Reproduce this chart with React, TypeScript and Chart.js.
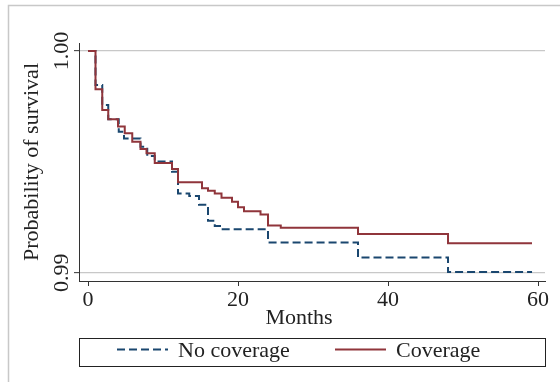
import React, { useEffect, useRef } from "react";
import { Chart, registerables } from "chart.js";

Chart.register(...registerables);

// Kaplan–Meier survival estimates by insurance coverage
const noCoverageMonths = [0, 1, 1.9, 2.7, 4.1, 4.8, 7.0, 7.9, 8.9, 11.2, 12, 13.5, 14.8, 16, 16.9, 17.8, 24, 36, 48, 59.2];
const noCoverageSurvival = [1.0, 0.99847, 0.99756, 0.99692, 0.99636, 0.99606, 0.99568, 0.99526, 0.99502, 0.99456, 0.99358, 0.99346, 0.99307, 0.99235, 0.99211, 0.99196, 0.99137, 0.99069, 0.99004, 0.99004];

const coverageMonths = [0, 1, 1.9, 2.7, 4.0, 4.9, 5.9, 7.0, 7.8, 8.9, 11.2, 12, 15.2, 16, 16.9, 17.8, 19.2, 20, 20.8, 23, 24, 25.7, 36, 48, 59.2];
const coverageSurvival = [1.0, 0.99827, 0.99734, 0.99692, 0.99659, 0.99629, 0.99591, 0.99558, 0.99539, 0.99495, 0.99468, 0.99408, 0.99381, 0.9937, 0.99358, 0.99338, 0.9932, 0.99295, 0.99277, 0.99263, 0.99213, 0.99203, 0.99175, 0.99133, 0.99133];

const xTickValues = [0, 20, 40, 60];
const yTickValues = [0.99, 1.0];

const seriesLabels = ["No coverage", "Coverage"];
const xTitle = "Months";
const yTitle = "Probability of survival";

const FONT = "'Liberation Serif', 'Times New Roman', serif";
const BLUE = "#1a476f";
const RED = "#90353b";

const toPoints = (xs: number[], ys: number[]) => xs.map((x, i) => ({ x, y: ys[i] }));

const framePlugin = {
  id: "frameAndLegend",
  afterDraw(chart: any) {
    const { ctx } = chart;
    ctx.save();
    // outer graph frame
    ctx.strokeStyle = "#c8c8c8";
    ctx.lineWidth = 1.5;
    ctx.strokeRect(8.5, 5.5, 620, 420);

    // x-axis title
    ctx.fillStyle = "#222";
    ctx.font = `22px ${FONT}`;
    ctx.textAlign = "center";
    ctx.textBaseline = "alphabetic";
    ctx.fillText(xTitle, 299, 324);

    // legend box
    ctx.strokeStyle = "#222";
    ctx.lineWidth = 1;
    ctx.strokeRect(79.5, 338.5, 466, 28);

    const ds = chart.data.datasets;
    const entries = [
      { ds: ds[0], x0: 117, x1: 168, tx: 178 },
      { ds: ds[1], x0: 335, x1: 386, tx: 396 },
    ];
    entries.forEach((e) => {
      ctx.beginPath();
      ctx.strokeStyle = e.ds.borderColor;
      ctx.lineWidth = e.ds.borderWidth;
      ctx.setLineDash(e.ds.borderDash || []);
      ctx.moveTo(e.x0, 349.5);
      ctx.lineTo(e.x1, 349.5);
      ctx.stroke();
      ctx.setLineDash([]);
      ctx.fillStyle = "#222";
      ctx.textAlign = "left";
      ctx.fillText(e.ds.label, e.tx, 356.5);
    });
    ctx.restore();
  },
};

export default function App() {
  const ref = useRef<HTMLCanvasElement | null>(null);

  useEffect(() => {
    if (!ref.current) return;
    const chart = new Chart(ref.current, {
      type: "line",
      data: {
        datasets: [
          {
            label: seriesLabels[0],
            data: toPoints(noCoverageMonths, noCoverageSurvival),
            borderColor: BLUE,
            borderWidth: 2,
            borderDash: [8, 4],
            stepped: "before",
            pointRadius: 0,
            fill: false,
            order: 1,
          },
          {
            label: seriesLabels[1],
            data: toPoints(coverageMonths, coverageSurvival),
            borderColor: RED,
            borderWidth: 2,
            stepped: "before",
            pointRadius: 0,
            fill: false,
            order: 0,
          },
        ],
      },
      options: {
        responsive: false,
        animation: false,
        devicePixelRatio: 1,
        layout: { padding: { left: 0, top: 43, right: 15, bottom: 0 } },
        plugins: { legend: { display: false }, tooltip: { enabled: false } },
        scales: {
          x: {
            type: "linear",
            min: -1.2,
            max: 60.93,
            afterBuildTicks: (s: any) => {
              s.ticks = xTickValues.map((value) => ({ value }));
            },
            afterFit: (s: any) => {
              s.height = 101;
            },
            ticks: {
              color: "#222",
              font: { family: FONT, size: 22 },
              padding: 1,
              maxRotation: 0,
              callback: (v: any) => String(v),
            },
            grid: {
              display: true,
              drawOnChartArea: false,
              drawTicks: true,
              tickLength: 5,
              tickColor: "#333",
              tickWidth: 1,
            },
            border: { display: true, color: "#333", width: 1 },
            title: { display: false },
          },
          y: {
            type: "linear",
            min: 0.98963,
            max: 1.00036,
            afterBuildTicks: (s: any) => {
              s.ticks = yTickValues.map((value) => ({ value }));
            },
            afterFit: (s: any) => {
              s.width = 79;
            },
            ticks: {
              color: "#222",
              font: { family: FONT, size: 22 },
              minRotation: 90,
              maxRotation: 90,
              crossAlign: "center",
              padding: -7,
              callback: (v: any) => Number(v).toFixed(2),
            },
            grid: {
              color: "#c8c8c8",
              lineWidth: 1.3,
              drawTicks: true,
              tickLength: 5,
              tickColor: "#333",
              tickWidth: 1,
            },
            border: { display: true, color: "#333", width: 1 },
            title: {
              display: true,
              text: yTitle,
              color: "#222",
              font: { family: FONT, size: 22 },
              padding: { top: 19, bottom: 0 },
            },
          },
        },
      },
      plugins: [framePlugin],
    });
    return () => chart.destroy();
  }, []);

  return (
    <div style={{ position: "fixed", left: 0, top: 0, width: 560, height: 382, background: "#fff" }}>
      <canvas ref={ref} width={560} height={382} style={{ display: "block" }} />
    </div>
  );
}
